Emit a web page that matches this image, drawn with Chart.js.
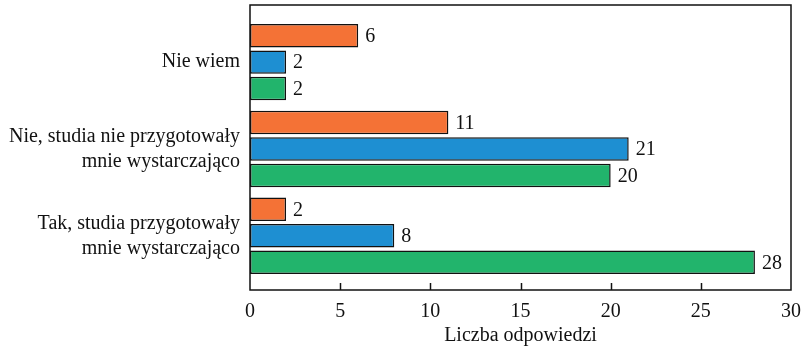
<!DOCTYPE html>
<html>
<head>
<meta charset="utf-8">
<script src="https://cdn.jsdelivr.net/npm/chart.js@4/dist/chart.umd.min.js"></script>
<style>
  html, body { margin: 0; padding: 0; background: #fff; }
  #wrap { width: 804px; height: 348px; }
</style>
</head>
<body>
<div id="wrap"><canvas id="chart" width="804" height="348"></canvas></div>
<script>
// Answer categories (multi-line labels), top to bottom
const categories = [
  ['Nie wiem'],
  ['Nie, studia nie przygotowały', 'mnie wystarczająco'],
  ['Tak, studia przygotowały', 'mnie wystarczająco']
];
// Response counts per series, in category order
const seriesOrange = [6, 11, 2];
const seriesBlue = [2, 21, 8];
const seriesGreen = [2, 20, 28];
const xTicks = [0, 5, 10, 15, 20, 25, 30];
const xTitle = 'Liczba odpowiedzi';

const FONT = '"Liberation Serif", "Times New Roman", serif';
const Y_MIN = -0.658, Y_MAX = 2.624;
const toPoints = arr => arr.map((v, i) => ({ x: v, y: i }));

// Frame around the plot area plus short inward ticks on the bottom edge
const framePlugin = {
  id: 'frame',
  afterDatasetsDraw(chart) {
    const { ctx, chartArea: a, scales } = chart;
    ctx.save();
    ctx.strokeStyle = '#111';
    ctx.lineWidth = 1.5;
    ctx.strokeRect(a.left, a.top, a.right - a.left, a.bottom - a.top);
    xTicks.slice(1, -1).forEach(t => {
      const px = Math.round(scales.x.getPixelForValue(t)) + 0.5;
      ctx.beginPath();
      ctx.moveTo(px, a.bottom);
      ctx.lineTo(px, a.bottom - 7);
      ctx.stroke();
    });
    ctx.restore();
  }
};

// Value printed just past the end of each bar
const valueLabels = {
  id: 'valueLabels',
  afterDatasetsDraw(chart) {
    const { ctx } = chart;
    ctx.save();
    ctx.font = '20px ' + FONT;
    ctx.fillStyle = '#111';
    ctx.textAlign = 'left';
    ctx.textBaseline = 'middle';
    chart.data.datasets.forEach((ds, di) => {
      chart.getDatasetMeta(di).data.forEach((bar, i) => {
        ctx.fillText(String(ds.data[i].x), bar.x + 7, bar.y + 1);
      });
    });
    ctx.restore();
  }
};

const barStyle = {
  borderColor: '#111',
  borderWidth: 1.5,
  borderSkipped: false,
  categoryPercentage: 0.914,
  barPercentage: 0.887
};

new Chart(document.getElementById('chart'), {
  type: 'bar',
  data: {
    datasets: [
      { label: 'Seria 1', data: toPoints(seriesOrange), backgroundColor: '#F47236', ...barStyle },
      { label: 'Seria 2', data: toPoints(seriesBlue), backgroundColor: '#1E8FD2', ...barStyle },
      { label: 'Seria 3', data: toPoints(seriesGreen), backgroundColor: '#22B46C', ...barStyle }
    ]
  },
  options: {
    indexAxis: 'y',
    responsive: false,
    animation: false,
    layout: { padding: { top: 5, right: 13, left: 0, bottom: 0 } },
    plugins: { legend: { display: false }, tooltip: { enabled: false } },
    scales: {
      x: {
        type: 'linear',
        min: 0,
        max: 30,
        grid: { display: false, drawTicks: false },
        border: { display: false },
        afterBuildTicks: s => { s.ticks = xTicks.map(v => ({ value: v })); },
        ticks: { color: '#111', font: { family: FONT, size: 20 }, padding: 10, maxRotation: 0 },
        title: { display: true, text: xTitle, color: '#111', font: { family: FONT, size: 20 }, padding: { top: 2, bottom: 0 } },
        afterFit: s => { s.height = 58; s.paddingLeft = 0; s.paddingRight = 0; }
      },
      y: {
        type: 'linear',
        reverse: true,
        offset: false,
        min: Y_MIN,
        max: Y_MAX,
        grid: { display: false, drawTicks: false },
        border: { display: false },
        afterDataLimits: s => { s.min = Y_MIN; s.max = Y_MAX; },
        afterBuildTicks: s => { s.ticks = categories.map((_, i) => ({ value: i })); },
        ticks: {
          color: '#111',
          font: { family: FONT, size: 20, lineHeight: 1.25 },
          padding: 10,
          callback: v => categories[v]
        },
        afterFit: s => { s.width = 250; s.paddingTop = 0; s.paddingBottom = 0; }
      }
    }
  },
  plugins: [framePlugin, valueLabels]
});
</script>
</body>
</html>
